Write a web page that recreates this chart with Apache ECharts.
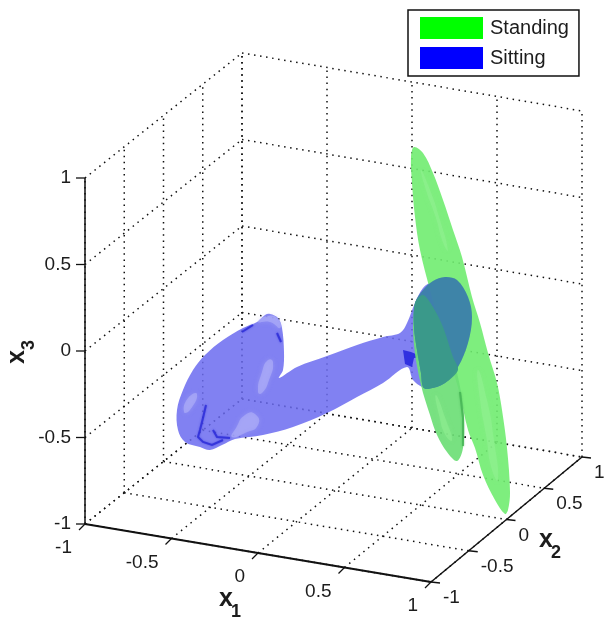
<!DOCTYPE html>
<html>
<head>
<meta charset="utf-8">
<style>
    html, body { margin: 0; padding: 0; background: #fff; }
    #chart { width: 612px; height: 629px; }
</style>
<script src="https://cdn.jsdelivr.net/npm/echarts@6/dist/echarts.min.js"></script>
</head>
<body>
<div id="chart"></div>
<script>
'use strict';

// tick values of the three axes
var x1Ticks = [-1, -0.5, 0, 0.5, 1];
var x2Ticks = [-1, -0.5, 0, 0.5, 1];
var x3Ticks = [-1, -0.5, 0, 0.5, 1];

// silhouettes, in the view plane (the surfaces are 3d blobs)
var standingLong = [[414, 147], [423, 153], [433, 173], [443, 200], [453, 230], [462, 257], [472, 297], [480, 323],
    [488, 353], [497, 383], [502, 410], [507, 448], [510, 492], [508, 510], [505, 514], [495, 500], [483, 475], [475, 448],
    [468, 430], [460, 395], [450, 360], [440, 325], [430, 290], [420, 250], [415, 217], [412, 183], [411, 157]];
var standingShort = [[420, 296], [414, 310], [414, 345], [421, 385], [430, 415], [437, 435], [447, 452], [457, 461],
    [463, 448], [464, 418], [461, 392], [453, 357], [443, 327], [433, 307]];
var standingEdge = [[460, 392], [463, 418], [463, 446]];
var standingGlow = [
    [[421, 170], [430, 190], [440, 220], [448, 250], [444, 245], [435, 215], [426, 190]],
    [[478, 370], [487, 400], [494, 440], [498, 480], [492, 470], [486, 435], [480, 400]],
    [[436, 395], [446, 420], [452, 440], [446, 436], [439, 415]]
];
var sittingBody = [[270, 314], [278, 318], [282, 328], [284, 352], [283, 370], [279, 378], [297, 367], [327, 356],
    [357, 345], [383, 337], [400, 333], [407, 323], [415, 303], [423, 288], [433, 281], [445, 277], [457, 280], [468, 297],
    [472, 317], [468, 343], [458, 367], [445, 383], [428, 389], [422, 387], [413, 380], [407, 367], [383, 383], [357, 397],
    [327, 413], [293, 427], [263, 435], [235, 439], [222, 445], [210, 450], [200, 447], [185, 442], [178, 430], [177, 410],
    [183, 390], [193, 370], [205, 355], [223, 340], [243, 328], [257, 322], [265, 315]];
var sittingGlow = [
    [[273, 362], [269, 380], [262, 393], [258, 392], [262, 372], [268, 360]],
    [[197, 394], [190, 410], [184, 412], [188, 398]],
    [[255, 414], [258, 425], [245, 433], [232, 437], [236, 428], [245, 415]],
    [[258, 322], [268, 316], [278, 319], [280, 328], [270, 322]]
];
var sittingCreases = [
    [[206, 405], [203, 418], [200, 430], [198, 437], [203, 442], [212, 445], [223, 440]],
    [[213, 430], [217, 437], [230, 438]],
    [[242, 332], [253, 325]],
    [[277, 333], [281, 342]]
];
var sittingStar = [[403, 350], [411, 352], [423, 357], [414, 358], [412, 367], [405, 364]];
var overlapLong = [[423, 290], [433, 281], [445, 277], [457, 280], [468, 297], [472, 317], [468, 343], [458, 367],
    [445, 383], [428, 389], [423, 387], [421, 373], [417, 350], [414, 327], [415, 303]];
var overlapShort = [[415, 303], [423, 295], [433, 307], [443, 327], [453, 357], [458, 370], [445, 383], [428, 389],
    [423, 387], [421, 373], [417, 350], [414, 327]];

var legendNames = ['Standing', 'Sitting'];

// box corners on screen: x1 runs down right, x2 up right, x3 straight up
function project(a, b, c) {
    return [
        85 + 173 * (a + 1) + 78.5 * (b + 1) - 1.5 * (a + 1) * (b + 1),
        524 + 29 * (a + 1) - 62.5 * (b + 1) - 173 * (c + 1)
    ];
}

// dotted segments on the three back walls
function buildGridSegments() {
    var segments = [];
    x1Ticks.forEach(function (t) {
        segments.push([[t, -1, -1], [t, 1, -1]]);
        segments.push([[t, 1, -1], [t, 1, 1]]);
    });
    x2Ticks.forEach(function (t) {
        segments.push([[-1, t, -1], [1, t, -1]]);
        segments.push([[-1, t, -1], [-1, t, 1]]);
    });
    x3Ticks.forEach(function (t) {
        segments.push([[-1, -1, t], [-1, 1, t]]);
        segments.push([[-1, 1, t], [1, 1, t]]);
    });
    return segments;
}

function coords(api, points) {
    return points.map(function (p) { return api.coord(p); });
}

function polygon(api, points, fill, smooth, blur) {
    return {
        type: 'polygon',
        shape: { points: coords(api, points), smooth: smooth },
        style: { fill: fill, stroke: null, shadowBlur: blur || 0, shadowColor: blur ? fill : null }
    };
}

function polyline(api, points, stroke, width, dash, blur) {
    return {
        type: 'polyline',
        shape: { points: coords(api, points) },
        style: { fill: null, stroke: stroke, lineWidth: width, lineDash: dash, shadowBlur: blur || 0, shadowColor: blur ? stroke : null }
    };
}

function label(text, x, y, align, api, size, weight, rotation) {
    var p = api.coord([x, y]);
    return {
        type: 'text',
        x: p[0],
        y: p[1],
        rotation: rotation || 0,
        style: {
            text: text,
            fill: '#1c1c1c',
            align: align,
            verticalAlign: 'middle',
            fontFamily: 'Liberation Sans',
            fontSize: size,
            fontWeight: weight || 'normal'
        }
    };
}

function layerSeries(name, z, build) {
    return {
        type: 'custom',
        name: name,
        coordinateSystem: 'cartesian2d',
        z: z,
        silent: true,
        clip: false,
        data: [[0, 0]],
        renderItem: function (params, api) {
            return { type: 'group', children: build(api) };
        }
    };
}

function buildGrid(api) {
    return buildGridSegments().map(function (s) {
        var from = project(s[0][0], s[0][1], s[0][2]);
        var to = project(s[1][0], s[1][1], s[1][2]);
        return polyline(api, [from, to], '#111', 1.5, [1.5, 4.6]);
    });
}

function buildSittingBody(api) {
    var items = [polygon(api, sittingBody, 'rgba(108,108,240,0.86)', 0.35)];
    sittingGlow.forEach(function (g) {
        items.push(polygon(api, g, 'rgba(178,178,248,0.6)', 0.6, 5));
    });
    sittingCreases.forEach(function (c) {
        items.push(polyline(api, c, 'rgba(40,40,215,0.75)', 2, null, 2));
    });
    items.push(polygon(api, sittingStar, '#3030e0', 0));
    return items;
}

function buildStanding(api) {
    var items = [
        polygon(api, standingLong, 'rgba(112,236,112,0.9)', 0.35),
        polygon(api, standingShort, 'rgba(108,222,118,0.92)', 0.35),
        polyline(api, standingEdge, 'rgba(70,180,85,0.8)', 2, null, 2)
    ];
    standingGlow.forEach(function (g) {
        items.push(polygon(api, g, 'rgba(150,242,150,0.45)', 0.6, 5));
    });
    return items;
}

function buildOverlap(api) {
    return [
        polygon(api, overlapLong, 'rgba(60,128,170,0.96)', 0.35),
        polygon(api, overlapShort, 'rgba(58,154,136,0.96)', 0.3)
    ];
}

function buildAxes(api) {
    var items = [];
    var lo = -1;
    var hi = 1;

    items.push(polyline(api, [project(lo, lo, lo), project(lo, lo, hi)], '#111', 1.5));
    items.push(polyline(api, [project(lo, lo, lo), project(hi, lo, lo)], '#111', 2));
    items.push(polyline(api, [project(hi, lo, lo), project(hi, hi, lo)], '#111', 1.5));

    x3Ticks.forEach(function (t) {
        var p = project(lo, lo, t);
        items.push(polyline(api, [p, [p[0] - 9, p[1]]], '#111', 1.3));
        items.push(label(String(t), p[0] - 14, p[1], 'right', api, 19));
    });
    x1Ticks.forEach(function (t) {
        var p = project(t, lo, lo);
        items.push(polyline(api, [p, [p[0] - 6, p[1] + 6]], '#111', 1.3));
        items.push(label(String(t), p[0] - 13, p[1] + 24, 'right', api, 19));
    });
    x2Ticks.forEach(function (t) {
        var p = project(hi, t, lo);
        items.push(polyline(api, [p, [p[0] + 9, p[1] + 1]], '#111', 1.3));
        items.push(label(String(t), p[0] + 12, p[1] + 16, 'left', api, 19));
    });

    items.push(label('x', 226, 599, 'center', api, 25, 'bold'));
    items.push(label('1', 236, 612, 'center', api, 18, 'bold'));
    items.push(label('x', 546, 540, 'center', api, 25, 'bold'));
    items.push(label('2', 556, 553, 'center', api, 18, 'bold'));
    items.push(label('x', 17, 357, 'center', api, 25, 'bold', Math.PI / 2));
    items.push(label('3', 29, 345, 'center', api, 18, 'bold', Math.PI / 2));
    return items;
}

var chart = echarts.init(document.getElementById('chart'), null, { renderer: 'canvas' });

chart.setOption({
    animation: false,
    backgroundColor: '#fff',
    grid: { left: 0, right: 0, top: 0, bottom: 0 },
    xAxis: { type: 'value', min: 0, max: 612, show: false },
    yAxis: { type: 'value', min: 0, max: 629, inverse: true, show: false },
    legend: {
        left: 408,
        top: 10,
        orient: 'vertical',
        padding: [7, 10, 7, 12],
        itemWidth: 63,
        itemHeight: 22,
        itemGap: 8,
        borderColor: '#111',
        borderWidth: 1.5,
        backgroundColor: '#fff',
        selectedMode: false,
        textStyle: { fontFamily: 'Liberation Sans', fontSize: 20, color: '#1c1c1c', padding: [0, 0, 0, 2] },
        data: [
            { name: legendNames[0], icon: 'rect', itemStyle: { color: '#00ff00' } },
            { name: legendNames[1], icon: 'rect', itemStyle: { color: '#0000ff' } }
        ]
    },
    series: [
        layerSeries('grid', 1, buildGrid),
        layerSeries(legendNames[1], 2, buildSittingBody),
        layerSeries(legendNames[0], 3, buildStanding),
        layerSeries(legendNames[1], 4, buildOverlap),
        layerSeries('axes', 5, buildAxes)
    ]
});
</script>
</body>
</html>
